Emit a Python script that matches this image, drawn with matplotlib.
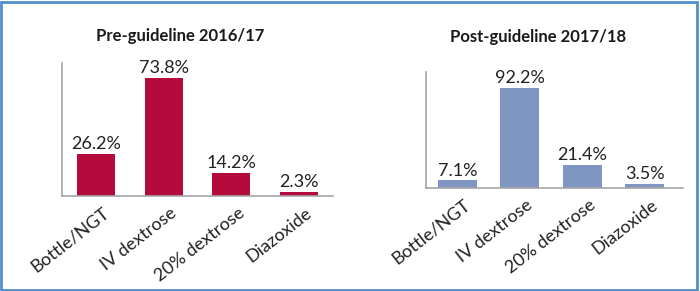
import matplotlib
matplotlib.use("Agg")
import matplotlib.pyplot as plt
from matplotlib.patches import Rectangle
from matplotlib.transforms import ScaledTranslation

plt.rcParams['font.family'] = ['Lato', 'DejaVu Sans']

categories = ["Bottle/NGT", "IV dextrose", "20% dextrose", "Diazoxide"]
pre_values = [26.2, 73.8, 14.2, 2.3]
post_values = [7.1, 92.2, 21.4, 3.5]
pre_title = "Pre-guideline 2016/17"
post_title = "Post-guideline 2017/18"

W, H = 700, 291
fig = plt.figure(figsize=(W / 100, H / 100), dpi=100)


def px_axes(x0, x1, ytop, ybot):
    return fig.add_axes([x0 / W, (H - ybot) / H, (x1 - x0) / W, (ybot - ytop) / H])


def draw(ax, values, color, width, xlim, ylim, title, title_xy):
    x = range(len(values))
    ax.bar(x, values, width=width, color=color, zorder=2)
    for xi, v in zip(x, values):
        ax.text(xi, v + ylim[1] * 0.015, f"{v}%", ha="center", va="bottom",
                fontsize=13, color="#222222")
    ax.set_xlim(*xlim)
    ax.set_ylim(*ylim)
    for s in ("top", "right"):
        ax.spines[s].set_visible(False)
    for s in ("left", "bottom"):
        ax.spines[s].set_color("#a6a6a6")
        ax.spines[s].set_linewidth(1.2)
    ax.set_yticks([])
    ax.set_xticks(list(x))
    ax.set_xticklabels(categories, rotation=38, ha="right",
                       rotation_mode="anchor", fontsize=13, color="#222222")
    ax.tick_params(axis="x", length=0, pad=6)
    shift = ScaledTranslation(6 / 100, 0, fig.dpi_scale_trans)
    for lab in ax.get_xticklabels():
        lab.set_transform(lab.get_transform() + shift)
    fig.text(title_xy[0] / W, 1 - title_xy[1] / H, title, ha="center",
             va="center", fontsize=12, fontweight="bold", color="#1a1a1a")


ax1 = px_axes(62, 333, 63, 196)
draw(ax1, pre_values, "#b50a3c", 0.56, (-0.5, 3.5), (0, 83),
     pre_title, (180, 36))

ax2 = px_axes(426, 683, 72, 188)
draw(ax2, post_values, "#7f96c3", 0.62, (-0.5, 3.61), (0, 106.6),
     post_title, (538, 37))

fig.patches.append(Rectangle((1 / W, 1 / H), 1 - 4 / W, 1 - 3 / H,
                             transform=fig.transFigure, fill=False,
                             edgecolor="#4f8fcc", linewidth=2))

fig.savefig("out.png", dpi=100)
